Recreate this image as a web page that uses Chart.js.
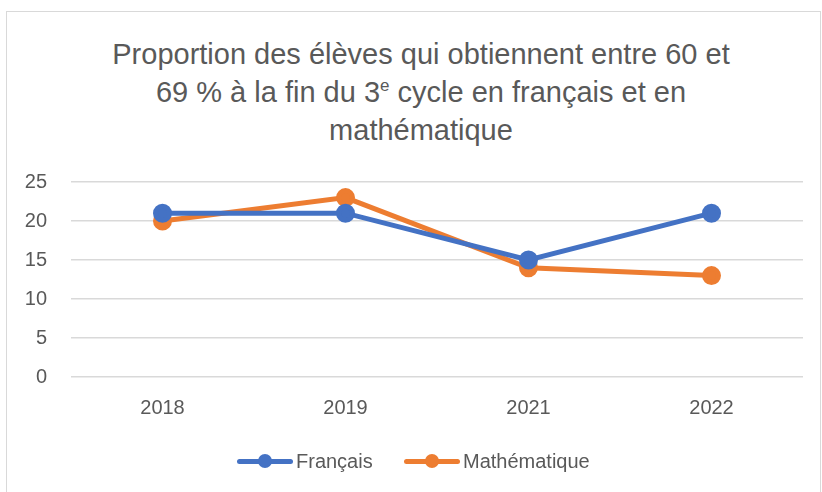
<!DOCTYPE html>
<html>
<head>
<meta charset="utf-8">
<script src="https://cdn.jsdelivr.net/npm/chart.js@4"></script>
<style>
  body { margin: 0; background: #fff; font-family: "Liberation Sans", sans-serif; }
  #wrap { position: relative; width: 822px; height: 492px; overflow: hidden; }
  #frame { position: absolute; left: 6px; top: 11px; width: 813px; height: 500px; border: 1px solid #d9d9d9; }
  #title { position: absolute; left: 0; top: 35px; width: 842px; text-align: center; color: #595959;
           font-size: 29px; line-height: 38px; }
  #title sup { font-size: 17px; vertical-align: 11px; line-height: 0; }
  canvas { position: absolute; left: 0; top: 0; }
  #legend { position: absolute; top: 449px; left: 0; width: 822px; height: 24px; color: #595959; font-size: 20px; }
  .item { position: absolute; top: 0; line-height: 24px; }
  .sym { position: absolute; top: 10px; height: 5px; border-radius: 3px; width: 56px; }
  .dot { position: absolute; top: -5px; left: 21px; width: 14px; height: 14px; border-radius: 7px; }
</style>
</head>
<body>
<div id="wrap">
  <div id="frame"></div>
  <div id="title">Proportion des élèves qui obtiennent entre 60 et<br>69 % à la fin du 3<sup>e</sup> cycle en français et en<br>mathématique</div>
  <canvas id="chart" width="822" height="492"></canvas>
  <div id="legend"></div>
</div>
<script>
const years = ['2018', '2019', '2021', '2022'];
const francais = [21, 21, 15, 21];
const mathematique = [20, 23, 14, 13];
const seriesNames = ['Français', 'Mathématique'];
const seriesColors = ['#4472C4', '#ED7D31'];

const ctx = document.getElementById('chart');
const chart = new Chart(ctx, {
    type: 'line',
    data: {
        labels: years,
        datasets: [francais, mathematique].map((values, i) => ({
            label: seriesNames[i],
            data: values,
            borderColor: seriesColors[i],
            backgroundColor: seriesColors[i],
            borderWidth: 5,
            pointRadius: 7,
            pointHoverRadius: 7,
            tension: 0,
            fill: false
        }))
    },
    options: {
        responsive: false,
        animation: false,
        layout: { padding: { top: 182, right: 19, left: 0, bottom: 0 } },
        plugins: {
            legend: { display: false },
            title: { display: false },
            tooltip: { enabled: false }
        },
        scales: {
            x: {
                offset: true,
                grid: { display: false, drawTicks: false },
                border: { display: false },
                ticks: { color: '#595959', font: { family: 'Liberation Sans', size: 20 }, padding: 19 },
                afterFit: scale => { scale.height = 115; }
            },
            y: {
                min: 0,
                max: 25,
                ticks: { stepSize: 5, color: '#595959', font: { family: 'Liberation Sans', size: 20 }, padding: 24 },
                grid: { color: '#d9d9d9', lineWidth: 1.5, drawTicks: false },
                border: { display: false },
                afterFit: scale => { scale.width = 71; }
            }
        }
    }
});

// legend built from the same series names / colours
const legend = document.getElementById('legend');
const legendX = [237, 404];
seriesNames.forEach((name, i) => {
    const item = document.createElement('div');
    item.className = 'item';
    item.style.left = legendX[i] + 'px';
    item.innerHTML = '<span class="sym" style="background:' + seriesColors[i] + '"><span class="dot" style="background:' + seriesColors[i] + '"></span></span>' +
        '<span style="margin-left:59px">' + name + '</span>';
    legend.appendChild(item);
});
</script>
</body>
</html>
